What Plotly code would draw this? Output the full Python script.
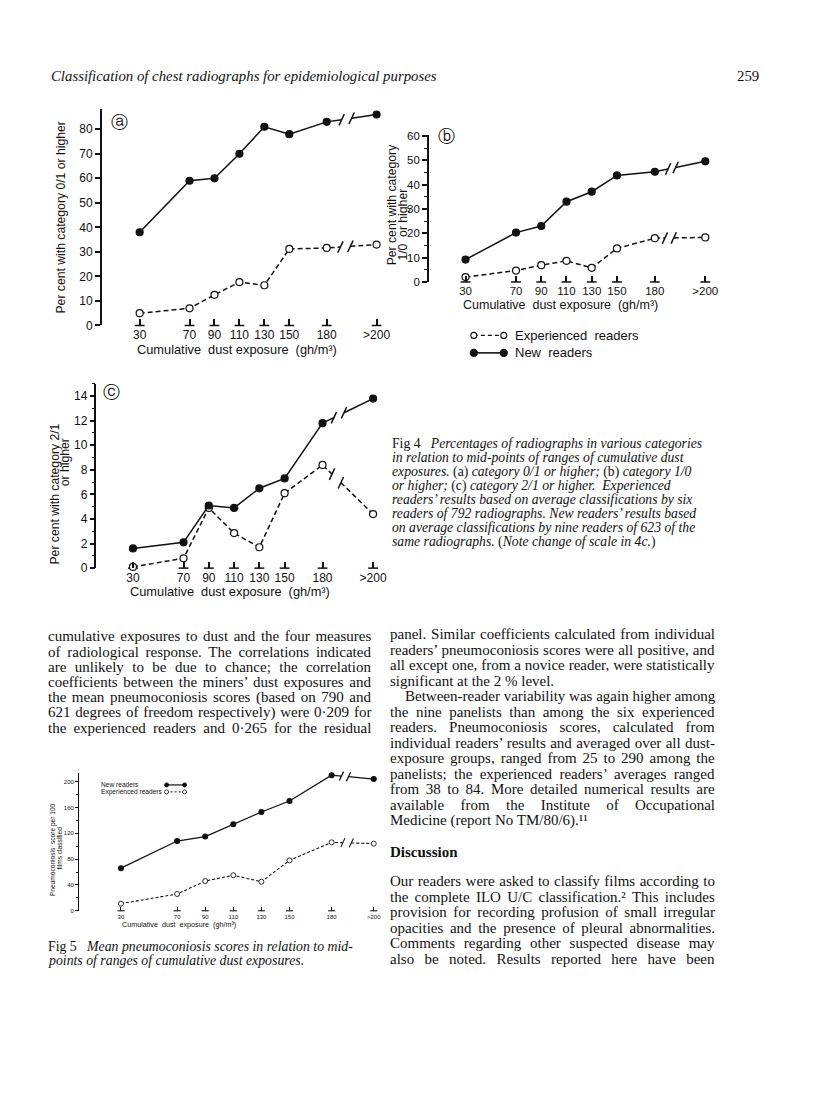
import json
import numpy as np
import plotly.graph_objects as go

W, H = 816, 1107

# ---------------- data ----------------
EXPOSURE_LABELS = ["30", "70", "90", "110", "130", "150", "180", ">200"]
X_FIG4 = [30, 70, 90, 110, 130, 150, 180, 220]   # plotting positions (>200 drawn at 220)
X_FIG5 = [30, 70, 90, 110, 130, 150, 180, 210]

# Fig 4a  category 0/1 or higher (%)
A_NEW = [38, 59, 60, 70, 81, 78, 83, 86]
A_EXP = [5, 7, 12.5, 17.7, 16.4, 31.2, 31.6, 33]
# Fig 4b  category 1/0 or higher (%)
B_NEW = [9.2, 20.3, 23, 33, 37.1, 43.8, 45.3, 49.6]
B_EXP = [2, 4.7, 6.9, 8.7, 5.8, 13.8, 18, 18.3]
# Fig 4c  category 2/1 or higher (%)
C_NEW = [1.6, 2.1, 5.1, 4.9, 6.5, 7.3, 11.8, 13.8]
C_EXP = [0.1, 0.8, 4.9, 2.85, 1.7, 6.1, 8.4, 4.4]
# Fig 5  mean pneumoconiosis score per 100 films
F5_NEW = [66, 108, 115, 134, 153, 170, 210, 204]
F5_EXP = [11, 26, 46, 55, 45, 78, 106, 104]

A_TICKS = [0, 10, 20, 30, 40, 50, 60, 70, 80]
B_TICKS = [0, 10, 20, 30, 40, 50, 60]
C_TICKS = [0, 2, 4, 6, 8, 10, 12, 14]
F5_TICKS = [0, 40, 80, 120, 160, 200]


def px(x):
    return x / W


def py(y):
    return 1 - y / H


fig = go.Figure()
BLACK = "#111"
SANS = "Liberation Sans, Arial, sans-serif"
SERIF = "Liberation Serif, Times New Roman, serif"


def add_axes(n, xdom, ydom, xrange, yrange, xvals, yticks, fs, lw, minor_dtick=None, ticklen=5):
    xa = dict(domain=[px(xdom[0]), px(xdom[1])], range=xrange, anchor="y%d" % n if n > 1 else "y",
              showline=False, showgrid=False, zeroline=False, ticks="inside", ticklen=ticklen + 1,
              tickwidth=lw, tickcolor=BLACK, tickvals=xvals, ticktext=EXPOSURE_LABELS,
              tickfont=dict(family=SANS, size=fs, color=BLACK), ticklabelstandoff=1)
    ya = dict(domain=[py(ydom[0]), py(ydom[1])], range=yrange, anchor="x%d" % n if n > 1 else "x",
              showline=True, linecolor=BLACK, linewidth=lw, showgrid=False, zeroline=False,
              ticks="outside", ticklen=ticklen, tickwidth=lw, tickcolor=BLACK, tickvals=yticks,
              tickfont=dict(family=SANS, size=fs, color=BLACK), ticklabelstandoff=0)
    if minor_dtick:
        ya["minor"] = dict(dtick=minor_dtick, ticks="outside", ticklen=max(ticklen - 2, 2),
                           tickwidth=lw * 0.8, tickcolor=BLACK, showgrid=False)
    key = "" if n == 1 else str(n)
    fig.update_layout(**{"xaxis" + key: xa, "yaxis" + key: ya})


def add_series(n, xs, ys, gap, dash, filled, size, lw):
    xr = "x" if n == 1 else "x%d" % n
    yr = "y" if n == 1 else "y%d" % n
    g0 = float(np.interp(gap[0], [xs[-2], xs[-1]], [ys[-2], ys[-1]]))
    g1 = float(np.interp(gap[1], [xs[-2], xs[-1]], [ys[-2], ys[-1]]))
    lx = list(xs[:-1]) + [gap[0], None, gap[1], xs[-1]]
    ly = list(ys[:-1]) + [g0, None, g1, ys[-1]]
    fig.add_trace(go.Scatter(x=lx, y=ly, xaxis=xr, yaxis=yr, mode="lines", connectgaps=False,
                             line=dict(color=BLACK, width=lw, dash=dash), cliponaxis=False,
                             hoverinfo="skip", showlegend=False))
    fig.add_trace(go.Scatter(x=[gap[0], gap[1]], y=[g0, g1], xaxis=xr, yaxis=yr, mode="markers",
                             marker=dict(symbol="line-ns", size=size + 2, angle=25,
                                         line=dict(color=BLACK, width=lw)),
                             cliponaxis=False, hoverinfo="skip", showlegend=False))
    fig.add_trace(go.Scatter(x=xs, y=ys, xaxis=xr, yaxis=yr, mode="markers",
                             marker=dict(symbol="circle", size=size,
                                         color=BLACK if filled else "white",
                                         line=dict(color=BLACK, width=lw * 0.8)),
                             cliponaxis=False, showlegend=False))


def add_tick_bases(n, xs, size, lw):
    xr = "x" if n == 1 else "x%d" % n
    yr = "y" if n == 1 else "y%d" % n
    fig.add_trace(go.Scatter(x=xs, y=[0] * len(xs), xaxis=xr, yaxis=yr, mode="markers",
                             marker=dict(symbol="line-ew", size=size, line=dict(color=BLACK, width=lw)),
                             cliponaxis=False, hoverinfo="skip", showlegend=False))


# ---- Fig 4a ----
add_axes(1, (102, 402.5), (324, 105), [-0.4, 240], [0, 88.3], X_FIG4, A_TICKS, 12, 1.5)
add_tick_bases(1, X_FIG4, 7, 1.5)
add_series(1, X_FIG4, A_EXP, (191, 199), "5px,3px", False, 7, 1.5)
add_series(1, X_FIG4, A_NEW, (192, 200), "solid", True, 7, 1.5)
# ---- Fig 4b ----
add_axes(2, (430, 726), (280, 131.7), [1, 235], [0, 60.3], X_FIG4, B_TICKS, 11.5, 1.5, minor_dtick=5)
add_tick_bases(2, X_FIG4, 7, 1.5)
add_series(2, X_FIG4, B_EXP, (188, 195), "5px,3px", False, 7, 1.5)
add_series(2, X_FIG4, B_NEW, (190.5, 196.5), "solid", True, 7, 1.5)
# ---- Fig 4c ----
add_axes(3, (96.7, 393), (569.3, 383), [1.1, 235], [0, 15], X_FIG4, C_TICKS, 12, 1.5, minor_dtick=1)
add_tick_bases(3, X_FIG4, 7, 1.5)
add_series(3, X_FIG4, C_EXP, (187.5, 194.5), "5px,3px", False, 7, 1.5)
add_series(3, X_FIG4, C_NEW, (189, 197), "solid", True, 7, 1.5)
# ---- Fig 5 ----
add_axes(4, (79.3, 380.3), (915.7, 776), [0.2, 214], [0, 214], X_FIG5, F5_TICKS, 6, 1.1,
         minor_dtick=20, ticklen=3)
add_tick_bases(4, X_FIG5, 5, 1.1)
add_series(4, X_FIG5, F5_EXP, (188, 194), "3px,2px", False, 5, 1.1)
add_series(4, X_FIG5, F5_NEW, (187, 192), "solid", True, 5, 1.3)

# ---- overlay axis in page pixels for legend keys ----
fig.update_layout(xaxis5=dict(domain=[0, 1], range=[0, W], visible=False, anchor="y5"),
                  yaxis5=dict(domain=[0, 1], range=[H, 0], visible=False, anchor="x5"))
LEGEND_KEYS = [  # (x0, x1, y, dash, filled, size, lw)
    (475, 505, 334, "4px,3px", False, 6, 1.3),
    (475, 505, 351.7, "solid", True, 7, 1.6),
    (167, 185, 788.5, "solid", True, 4, 1.2),
    (167, 185, 795.5, "2px,2px", False, 4, 1.0),
]
for x0, x1, yk, dash, filled, size, lw in LEGEND_KEYS:
    fig.add_trace(go.Scatter(x=[x0, x1], y=[yk, yk], xaxis="x5", yaxis="y5", mode="lines+markers",
                             line=dict(color=BLACK, width=lw, dash=dash),
                             marker=dict(symbol="circle", size=size, color=BLACK if filled else "white",
                                         line=dict(color=BLACK, width=lw * 0.8)),
                             hoverinfo="skip", showlegend=False))

ann = []
JUSTIFY = {}


def text(x, y, s, size, family=SERIF, anchor="left", angle=0, justify_to=None):
    if justify_to is not None:
        JUSTIFY[str(len(ann))] = justify_to - x
    ann.append(dict(x=px(x), y=py(y), xref="paper", yref="paper", text=s, showarrow=False,
                    xanchor=anchor, yanchor="middle", textangle=angle,
                    align="left" if anchor == "left" else anchor,
                    borderpad=0, font=dict(family=family, size=size, color=BLACK)))


# header
text(50, 72, "<i>Classification of chest radiographs for epidemiological purposes</i>", 14.8)
text(762, 72, "259", 14.8, anchor="right")

# panel labels
text(120, 118, "ⓐ", 17, family="DejaVu Sans", anchor="center")
text(448, 132, "ⓑ", 17, family="DejaVu Sans", anchor="center")
text(112, 391, "ⓒ", 17, family="DejaVu Sans", anchor="center")

# axis titles fig 4
XT = "Cumulative  dust exposure  (gh/m³)"
text(238, 348, XT, 12.8, family=SANS, anchor="center")
text(561.7, 303.5, XT, 12.5, family=SANS, anchor="center")
text(231, 593.3, XT, 12.8, family=SANS, anchor="center")
text(61.5, 214.5, "Per cent with category 0/1 or higher", 12.2, family=SANS, anchor="center", angle=-90)
text(392.5, 202, "Per cent with category", 12.2, family=SANS, anchor="center", angle=-90)
text(404, 222, "1/0  or higher", 12.2, family=SANS, anchor="center", angle=-90)
text(55, 494, "Per cent with category 2/1", 12.2, family=SANS, anchor="center", angle=-90)
text(66, 462.5, "or higher", 12.2, family=SANS, anchor="center", angle=-90)

# legend text fig 4b
text(515, 334, "Experienced  readers", 13, family=SANS)
text(515, 351.7, "New  readers", 13, family=SANS)

# fig 5 texts
text(100, 788.5, "New readers", 6.6, family=SANS)
text(100, 795.5, "Experienced readers", 6.6, family=SANS)
text(179.5, 929.3, "Cumulative  dust  exposure  (gh/m³)", 7.2, family=SANS, anchor="center")
text(52.5, 854, "Pneumoconiosis  score per 100", 6.6, family=SANS, anchor="center", angle=-90)
text(59.5, 852.5, "films classified", 6.6, family=SANS, anchor="center", angle=-90)

# Fig 4 caption
CAP4 = [
    "Fig 4   <i>Percentages of radiographs in various categories</i>",
    "<i>in relation to mid-points of ranges of cumulative dust</i>",
    "<i>exposures.</i> (a) <i>category 0/1 or higher;</i> (b) <i>category 1/0</i>",
    "<i>or higher;</i> (c) <i>category 2/1 or higher.  Experienced</i>",
    "<i>readers’ results based on average classifications by six</i>",
    "<i>readers of 792 radiographs. New readers’ results based</i>",
    "<i>on average classifications by nine readers of 623 of the</i>",
    "<i>same radiographs.</i> (<i>Note change of scale in 4c.</i>)",
]
for i, s in enumerate(CAP4):
    text(392, 443.3 + i * 14.2, s, 13.7)

# Fig 5 caption
text(46.7, 952.3, "Fig 5   <i>Mean pneumoconiosis scores in relation to mid-</i>", 13.8)
text(46.7, 965.7, "<i>points of ranges of cumulative dust exposures.</i>", 13.8)

BODY = 15
LEFT_COL = [
    "cumulative exposures to dust and the four measures",
    "of radiological response. The correlations indicated",
    "are unlikely to be due to chance; the correlation",
    "coefficients between the miners’ dust exposures and",
    "the mean pneumoconiosis scores (based on 790 and",
    "621 degrees of freedom respectively) were 0·209 for",
    "the experienced readers and 0·265 for the residual",
]
for i, s in enumerate(LEFT_COL):
    text(47.3, 638.3 + i * 15.45, s, BODY, justify_to=370.7)

RIGHT_COL = [
    "panel. Similar coefficients calculated from individual",
    "readers’ pneumoconiosis scores were all positive, and",
    "all except one, from a novice reader, were statistically",
    "significant at the 2 % level.",
    "\u00a0\u00a0\u00a0\u00a0Between-reader variability was again higher among",
    "the nine panelists than among the six experienced",
    "readers. Pneumoconiosis scores, calculated from",
    "individual readers’ results and averaged over all dust-",
    "exposure groups, ranged from 25 to 290 among the",
    "panelists; the experienced readers’ averages ranged",
    "from 38 to 84. More detailed numerical results are",
    "available from the Institute of Occupational",
    "Medicine (report No TM/80/6).¹¹",
]
RIGHT_LAST = {3, 12}
for i, s in enumerate(RIGHT_COL):
    text(390, 636 + i * 15.69, s, BODY, justify_to=None if i in RIGHT_LAST else 715)

text(390, 856, "<b>Discussion</b>", BODY)

DISC = [
    "Our readers were asked to classify films according to",
    "the complete ILO U/C classification.² This includes",
    "provision for recording profusion of small irregular",
    "opacities and the presence of pleural abnormalities.",
    "Comments regarding other suspected disease may",
    "also be noted. Results reported here have been",
]
for i, s in enumerate(DISC):
    text(390, 886 + i * 15.6, s, BODY, justify_to=715)

fig.update_layout(width=W, height=H, autosize=False, margin=dict(l=0, r=0, t=0, b=0),
                  paper_bgcolor="white", plot_bgcolor="rgba(0,0,0,0)", showlegend=False,
                  annotations=ann)

JS = (
    "document.body.style.margin='0';document.body.style.overflow='hidden';"
    "var J=" + json.dumps(JUSTIFY) + ";"
    "var gd=document.getElementById('{plot_id}');"
    "gd.querySelectorAll('g.annotation').forEach(function(g){"
    " var i=g.getAttribute('data-index'); if(!(i in J)) return;"
    " var t=g.querySelector('text.annotation-text'); if(!t) return;"
    " var w=t.getBBox().width; var n=(t.textContent.match(/ /g)||[]).length;"
    " if(n>0 && w<J[i]){ t.style.wordSpacing=((J[i]-w)/n)+'px'; }"
    "});"
)
fig.write_html("out.html", config={"displayModeBar": False}, post_script=JS)
